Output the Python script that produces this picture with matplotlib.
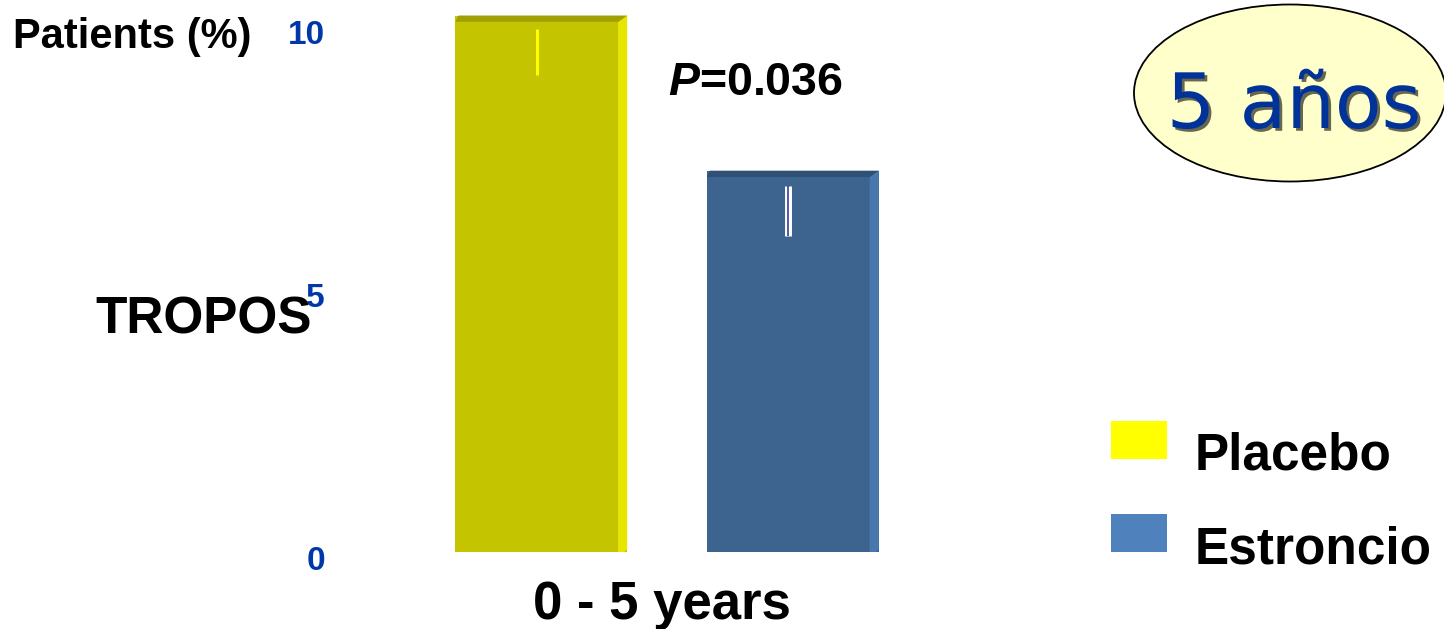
#TROPOS - patients with fracture over 5 years, placebo vs strontium
import matplotlib
matplotlib.use('Agg')
import matplotlib.pyplot as plt
import matplotlib.patheffects as pe
from matplotlib.patches import Polygon, Rectangle, Ellipse
from matplotlib.transforms import ScaledTranslation

#Data
series = ['Placebo', 'Estroncio']
values = [10.2, 7.25]
err_low = [9.07, 6.01]
err_high = [9.94, 6.96]
category = '0 - 5 years'
yticks = [0, 5, 10]
p_text = '=0.036'
study = 'TROPOS'
badge = '5 años'
ylabel = 'Patients (%)'

#Colours: front, right side, top face of each bar, legend swatches
front = ['#c4c400', '#3d638f']
side = ['#e6e600', '#4a78ad']
top = ['#a0a000', '#2f4f75']
legend_col = ['#ffff00', '#4f81bd']
blue_txt = '#0038a8'

plt.rcParams['font.family'] = ['Liberation Sans', 'DejaVu Sans']
plt.rcParams['mathtext.fontset'] = 'custom'
plt.rcParams['mathtext.it'] = 'Liberation Sans:italic:bold'
plt.rcParams['mathtext.rm'] = 'Liberation Sans:bold'

W, H = 1444, 629
fig = plt.figure(figsize=(W / 100, H / 100), dpi=100)

def fx(px):
    return px / W

def fy(py):
    return 1 - py / H

#Axes placed so that the bar baseline sits where the slide has it
ax = fig.add_axes([fx(400), fy(552), (934 - 400) / W, (552 - 5) / H])
ax.set_xlim(-1, 1)
ax.set_ylim(0, 10.4)
for s in ax.spines.values():
    s.set_visible(False)

xpos = [-0.471, 0.471]
bars = ax.bar(xpos, values, width=0.644, color=front, zorder=2)

#Fake 3D bevel: lighter right strip, darker top strip
sw, th = 0.034, 0.12
for i, b in enumerate(bars):
    x0 = b.get_x()
    x1 = x0 + b.get_width()
    h = b.get_height()
    ax.add_patch(Polygon([(x1 - sw, 0), (x1 - sw, h - th), (x1, h), (x1, 0.05), (x1 - sw / 3, 0)],
                         closed=True, color=side[i], zorder=3, lw=0))
    ax.add_patch(Polygon([(x0, h - th), (x0 + 0.012, h), (x1, h), (x1 - sw, h - th)],
                         closed=True, color=top[i], zorder=3, lw=0))
    xc = x0 + (b.get_width() - sw) / 2
    if i == 0:
        ax.vlines(xc, err_low[i], err_high[i], color='#ffff00', lw=2.2, zorder=4)
    else:
        ax.vlines(xc, err_low[i], err_high[i], color='white', lw=5, zorder=4)
        ax.vlines(xc, err_low[i], err_high[i], color='#3a3aa0', lw=1.2, zorder=5)

#Axis labels
ax.set_yticks(yticks)
ax.tick_params(axis='y', length=0, pad=54, labelsize=24, labelcolor=blue_txt)
for lab in ax.get_yticklabels():
    lab.set_fontweight('bold')
    lab.set_transform(lab.get_transform() + ScaledTranslation(0, -0.06, fig.dpi_scale_trans))
ax.set_xticks([0], [category])
ax.tick_params(axis='x', length=0, pad=20, labelsize=38)
for lab in ax.get_xticklabels():
    lab.set_fontweight('bold')
    lab.set_transform(lab.get_transform() + ScaledTranslation(-0.05, 0, fig.dpi_scale_trans))

fig.text(fx(13), fy(48), ylabel, fontsize=30, fontweight='bold', va='baseline')
fig.text(fx(95), fy(333), study, fontsize=37, fontweight='bold', va='baseline')
fig.text(fx(668), fy(95), r'$\mathit{P}$' + p_text, fontsize=33.5, fontweight='bold', va='baseline')

#Badge in the corner
fig.add_artist(Ellipse((12.90, 5.36), 3.12, 1.77, transform=fig.dpi_scale_trans,
                       fc='#ffffcc', ec='black', lw=1.3))
fig.text(fx(1294), fy(128), badge, family='DejaVu Sans', fontsize=55, color='#003399',
         ha='center', va='baseline',
         path_effects=[pe.withSimplePatchShadow(offset=(2, -2), shadow_rgbFace='black', alpha=0.6)])

#Legend drawn by hand
for i, name in enumerate(series):
    t = 421 + i * 93
    fig.add_artist(Rectangle((fx(1111), fy(t + 38)), 56 / W, 38 / H, transform=fig.transFigure,
                             color=legend_col[i], lw=0))
    fig.text(fx(1195), fy(470 + i * 94), name, fontsize=37, fontweight='bold', va='baseline')

fig.savefig('out.png', dpi=100)
